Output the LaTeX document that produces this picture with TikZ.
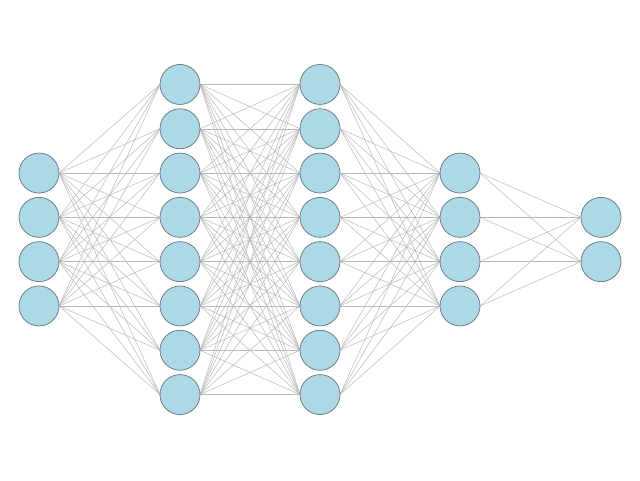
\documentclass[tikz,border=0pt]{standalone}
\begin{document}
\begin{tikzpicture}[x=1pt,y=-1pt,
  neuron/.style={circle,draw=neurborder,fill=neurfill,line width=0.7pt,minimum size=40pt,inner sep=0pt},
  synapse/.style={draw=edgegray,line width=0.5pt}]
\definecolor{neurfill}{RGB}{173,216,230}
\definecolor{neurborder}{RGB}{100,115,125}
\definecolor{edgegray}{RGB}{185,185,185}
\useasboundingbox (0,0) rectangle (640,480);
\def\sp{44.3}
\def\cy{239.5}
% layer definitions: index/x/count
\foreach \l/\x/\n in {1/39/4,2/180/8,3/320/8,4/460/4,5/601/2}{
  \foreach \i in {1,...,\n}{
    \pgfmathsetmacro\yy{\cy+(\i-(\n+1)/2)*\sp}
    \coordinate (c\l-\i) at (\x,\yy);
  }
}
% edges
\foreach \a/\na/\b/\nb in {1/4/2/8,2/8/3/8,3/8/4/4,4/4/5/2}{
  \foreach \i in {1,...,\na}{
    \foreach \j in {1,...,\nb}{
      \draw[synapse] ([xshift=20pt]c\a-\i) -- ([xshift=-20pt]c\b-\j);
    }
  }
}
% nodes
\foreach \l/\n in {1/4,2/8,3/8,4/4,5/2}{
  \foreach \i in {1,...,\n}{
    \node[neuron] (n\l-\i) at (c\l-\i) {};
  }
}
\end{tikzpicture}
\end{document}
